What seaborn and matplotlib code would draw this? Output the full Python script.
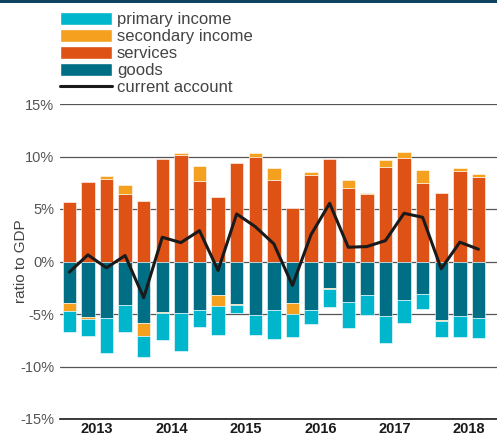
import numpy as np
import pandas as pd
import matplotlib
matplotlib.use("Agg")
import matplotlib.pyplot as plt
import seaborn as sns
from matplotlib.patches import Patch, Rectangle
from matplotlib.lines import Line2D

# ---- data (ratio to GDP, %) ----
quarters = ["2013Q1", "2013Q2", "2013Q3", "2013Q4",
            "2014Q1", "2014Q2", "2014Q3", "2014Q4",
            "2015Q1", "2015Q2", "2015Q3", "2015Q4",
            "2016Q1", "2016Q2", "2016Q3", "2016Q4",
            "2017Q1", "2017Q2", "2017Q3", "2017Q4",
            "2018Q1", "2018Q2", "2018Q3"]
years = ["2013", "2014", "2015", "2016", "2017", "2018"]

goods = [-3.92, -5.32, -5.35, -4.18, -5.85, -4.81, -4.90, -4.59,
         -3.16, -4.02, -5.06, -4.65, -3.96, -4.65, -2.53, -3.83,
         -3.16, -5.19, -3.70, -3.07, -5.54, -5.19, -5.35]
services = [5.63, 7.59, 7.88, 6.39, 5.73, 9.78, 10.13, 7.69,
            6.17, 9.34, 9.97, 7.78, 5.06, 8.26, 9.75, 6.99,
            6.42, 9.02, 9.87, 7.47, 6.55, 8.64, 8.07]
secondary_income = [-0.82, -0.19, 0.22, 0.89, -1.23, -0.13, 0.16, 1.39,
                    -1.11, -0.10, 0.32, 1.11, -1.01, 0.22, -0.13, 0.76,
                    0.10, 0.63, 0.54, 1.23, -0.13, 0.28, 0.28]
primary_income = [-1.96, -1.58, -3.32, -2.56, -1.99, -2.56, -3.61, -1.61,
                  -2.72, -0.76, -1.96, -2.69, -2.25, -1.33, -1.68, -2.53,
                  -1.96, -2.53, -2.18, -1.49, -1.55, -1.96, -1.90]
current_account = [-1.01, 0.63, -0.60, 0.57, -3.45, 2.31, 1.80, 2.94,
                   -0.85, 4.53, 3.32, 1.68, -2.28, 2.56, 5.54, 1.36,
                   1.42, 1.99, 4.59, 4.21, -0.70, 1.84, 1.17]

yticks = [-15, -10, -5, 0, 5, 10, 15]

colors = {
    "primary income": "#00B6CC",
    "secondary income": "#F5A01E",
    "services": "#DE5216",
    "goods": "#006F85",
}

sns.set_theme(style="white")
plt.rcParams["font.family"] = ["Liberation Sans", "DejaVu Sans"]

fig = plt.figure(figsize=(4.97, 4.41), dpi=100)
ax = fig.add_axes([60 / 497, 22 / 441, 437 / 497, 315 / 441])

n = len(quarters)
pos = np.zeros(n)
neg = np.zeros(n)
series = [("services", services), ("goods", goods),
          ("secondary income", secondary_income), ("primary income", primary_income)]
for name, vals in series:
    v = np.asarray(vals, dtype=float)
    bottom = np.where(v >= 0, pos, neg)
    sns.barplot(x=quarters, y=v, bottom=bottom, color=colors[name],
                saturation=1, width=0.72, errorbar=None, ax=ax,
                edgecolor="#ffffff", linewidth=0.4, zorder=2)
    pos += np.where(v >= 0, v, 0)
    neg += np.where(v < 0, v, 0)

sns.lineplot(x=np.arange(n), y=current_account, color="#1a1a1a",
             linewidth=2.2, ax=ax, zorder=3)

ax.set_ylim(-15, 15)
ax.set_xlim(-0.5, 23.0)
ax.set_yticks(yticks)
ax.set_yticklabels([f"{t}%" for t in yticks], fontsize=10.5, color="#555555")
ax.tick_params(axis="y", length=0, pad=4)
ax.set_axisbelow(True)
ax.yaxis.grid(True, color="#555555", linewidth=0.9)
ax.xaxis.grid(False)

for s in ["left", "right", "top"]:
    ax.spines[s].set_visible(False)
ax.spines["bottom"].set_color("#1a1a1a")
ax.spines["bottom"].set_linewidth(1.2)

bounds = [i * 4 - 0.5 for i in range(len(years))]
centers = [i * 4 + 1.5 for i in range(len(years))]
ax.set_xticks(bounds)
ax.set_xticklabels([""] * len(bounds))
ax.tick_params(axis="x", which="major", direction="in", length=7,
               width=1.0, color="#1a1a1a")
ax.set_xticks(centers, minor=True)
ax.set_xticklabels(years, minor=True, fontsize=10.5, fontweight="bold",
                   color="#1a1a1a")
ax.tick_params(axis="x", which="minor", length=0, pad=2.5)
ax.set_xlabel("")

ax.set_ylabel("ratio to GDP", fontsize=11, color="#444444")
ax.yaxis.set_label_coords(-0.074, 0.5)

fs = 12
fs_px = fs * 100 / 72
handles = [Patch(facecolor=colors["primary income"]),
           Patch(facecolor=colors["secondary income"]),
           Patch(facecolor=colors["services"]),
           Patch(facecolor=colors["goods"]),
           Line2D([0], [0], color="#1a1a1a", linewidth=2.2)]
labels = ["primary income", "secondary income", "services", "goods", "current account"]
fig.legend(handles, labels, loc="upper left", bbox_to_anchor=(60 / 497, 1 - 11.5 / 441),
           frameon=False, fontsize=fs, borderpad=0, borderaxespad=0,
           handlelength=52 / fs_px, handleheight=15 / fs_px, handletextpad=0.3,
           labelspacing=0.08, labelcolor="#444444")

fig.add_artist(Rectangle((0, 1 - 2.5 / 441), 1, 2.5 / 441, transform=fig.transFigure,
                         facecolor="#0f4460", edgecolor="none"))

fig.savefig("out.png", dpi=100)
